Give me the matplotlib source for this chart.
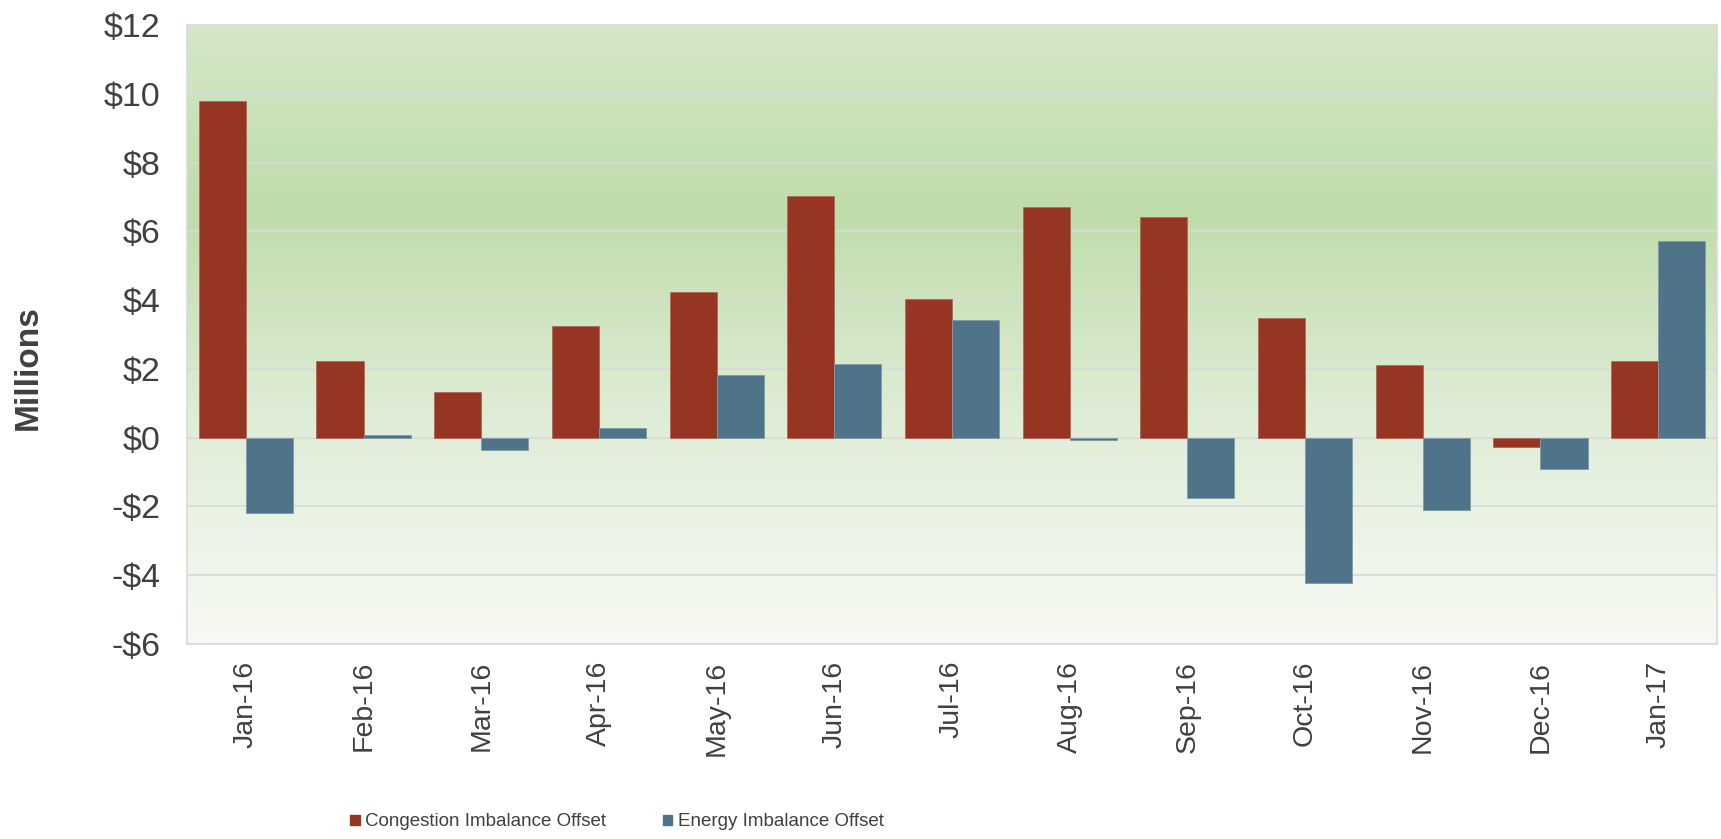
import numpy as np
import matplotlib.pyplot as plt
from matplotlib.colors import LinearSegmentedColormap
from matplotlib.patches import Patch

months = ['Jan-16', 'Feb-16', 'Mar-16', 'Apr-16', 'May-16', 'Jun-16', 'Jul-16',
          'Aug-16', 'Sep-16', 'Oct-16', 'Nov-16', 'Dec-16', 'Jan-17']
congestion = [9.78, 2.24, 1.34, 3.26, 4.25, 7.02, 4.03, 6.71, 6.42, 3.48, 2.12, -0.28, 2.22]
energy = [-2.19, 0.08, -0.35, 0.29, 1.82, 2.14, 3.42, -0.07, -1.76, -4.22, -2.11, -0.91, 5.73]
y_ticks = [-6, -4, -2, 0, 2, 4, 6, 8, 10, 12]

red = '#963522'
blue = '#4f7489'
text_col = '#404040'

plt.rcParams['font.family'] = ['Liberation Sans', 'DejaVu Sans']

fig = plt.figure(figsize=(17.21, 8.39), dpi=100)
ax = fig.add_axes([187 / 1721, 1 - 644 / 839, (1717 - 187) / 1721, (644 - 25) / 839])

x = np.arange(len(months))
w = 0.4
ax.bar(x - w / 2, congestion, w, color=red, edgecolor='#b0685a', linewidth=0.6, zorder=3)
ax.bar(x + w / 2, energy, w, color=blue, edgecolor='#7f9aab', linewidth=0.6, zorder=3)

# gradient background (top -> bottom)
cmap = LinearSegmentedColormap.from_list('bg', [
    (0.0, (212 / 255, 231 / 255, 200 / 255)),
    (0.3, (191 / 255, 220 / 255, 171 / 255)),
    (0.62, (222 / 255, 236 / 255, 213 / 255)),
    (1.0, (247 / 255, 250 / 255, 244 / 255)),
])
grad = np.linspace(0, 1, 256).reshape(-1, 1)
ax.imshow(grad, cmap=cmap, aspect='auto', extent=(-0.5, len(months) - 0.5, -6, 12),
          zorder=0, origin='upper')
ax.set_xlim(-0.5, len(months) - 0.5)
ax.set_ylim(-6, 12)

ax.set_yticks(y_ticks)
ax.set_yticklabels([f'-${-v}' if v < 0 else f'${v}' for v in y_ticks])
ax.yaxis.grid(True, color='#d9d9d9', linewidth=1.2)
ax.set_axisbelow(True)
ax.tick_params(axis='y', length=0, labelsize=24.5, labelcolor=text_col, pad=19)
ax.set_xticks(x)
ax.set_xticklabels(months, rotation=90)
ax.tick_params(axis='x', length=0, labelsize=20.5, labelcolor=text_col, pad=12)
for s in ax.spines.values():
    s.set_color('#d9d9d9')
    s.set_linewidth(1.2)

fig.text(28 / 1721, 1 - 368 / 839, 'Millions', rotation=90, ha='center', va='center',
         fontsize=24, fontweight='bold', color=text_col)

handles = [Patch(color=red), Patch(color=blue)]
fig.legend(handles, ['Congestion Imbalance Offset', 'Energy Imbalance Offset'],
           loc='center', bbox_to_anchor=(617 / 1721, 1 - 822 / 839), ncol=2, frameon=False,
           prop={'size': 13.5}, labelcolor=text_col, handlelength=0.5, handleheight=0.5,
           handletextpad=0.3, columnspacing=3.0)

fig.savefig('out.png', dpi=100)
